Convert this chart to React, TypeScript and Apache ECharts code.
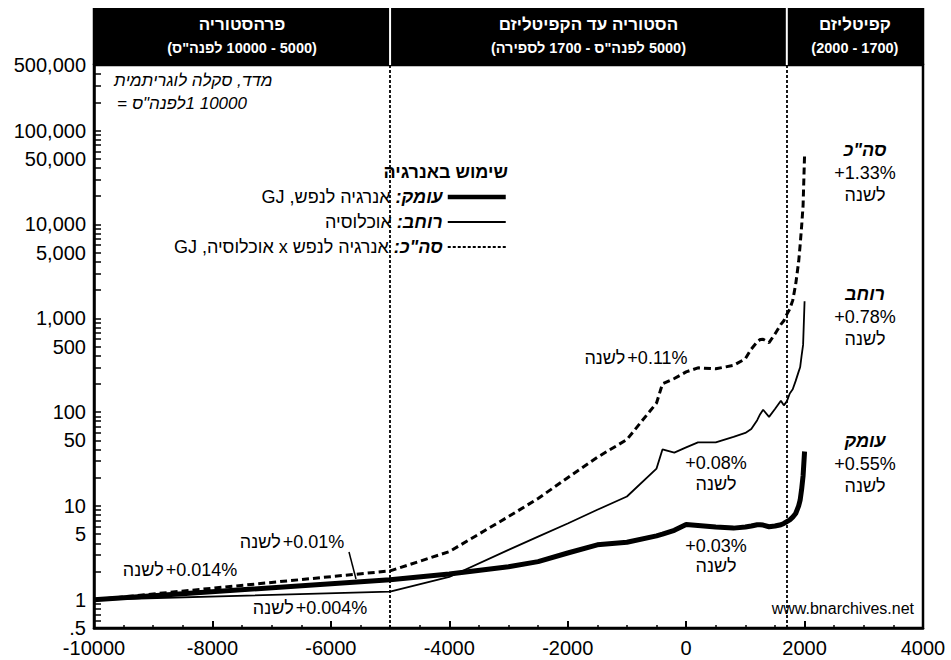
import React, { useEffect, useRef } from "react";
import * as echarts from "echarts";

// ---------- data ----------
const years = [
  -10000, -5000, -4000, -3000, -2500, -2000, -1500, -1000, -500, -400, -200, 0, 200, 500, 800, 1000,
  1100, 1200, 1250, 1300, 1400, 1500, 1600, 1650, 1700, 1750, 1800, 1850, 1900, 1925, 1950, 1975, 2000,
];
// depth: energy per capita (index)
const depth = [
  1.0, 1.63, 1.88, 2.25, 2.55, 3.15, 3.85, 4.1, 4.8, 5.0, 5.5, 6.35, 6.2, 5.95, 5.8, 5.95,
  6.1, 6.3, 6.3, 6.25, 6.0, 6.1, 6.3, 6.5, 6.8, 7.1, 7.6, 8.3, 10, 11.5, 15, 21, 38,
];
// breadth: population (index)
const breadth = [
  1.0, 1.22, 1.75, 3.4, 4.7, 6.5, 9.1, 12.6, 25, 40, 37, 42, 47.5, 47.5, 54.5, 60,
  66, 82, 95, 106, 89, 108, 132, 118, 130, 158, 175, 215, 270, 300, 400, 520, 1520,
];
// total: energy per capita x population (index)
const total = [
  1.0, 2.03, 3.26, 7.7, 12, 20, 33, 51, 125, 200, 228, 268, 296, 289, 315, 370,
  470, 560, 594, 598, 550, 680, 860, 940, 1100, 1250, 1550, 2300, 4000, 6000, 9500, 16000, 55000,
];

const yLabelValues = [0.5, 1, 5, 10, 50, 100, 500, 1000, 5000, 10000, 50000, 100000, 500000];
const eraBounds = [-10000, -5000, 1700, 4000];
const eraDividers = [-5000, 1700];
const eraTitles = ["פרהסטוריה", "הסטוריה עד הקפיטליזם", "קפיטליזם"];

type Seg = { t: string; pl?: number; pr?: number };
// each segment holds a single writing direction; segments are laid out left to right (right-to-left reading)
const eraRanges: Seg[][] = [
  [{ t: "(" }, { t: 'לפנה"ס', pr: 4 }, { t: "10000 - 5000)" }],
  [{ t: "(" }, { t: "לספירה", pr: 4 }, { t: "1700 -", pr: 4 }, { t: 'לפנה"ס', pr: 4 }, { t: "5000)" }],
  [{ t: "(2000 - 1700)" }],
];
const seriesNames = ['סה"כ', "רוחב", "עומק"];
const legendOrder = ["עומק", "רוחב", 'סה"כ'];
const legendRows: Record<string, string> = {
  "עומק": "{n|GJ ,}{nP|אנרגיה לנפש}{b|:}{b|עומק}",
  "רוחב": "{nP|אוכלוסיה}{b|:}{b|רוחב}",
  'סה"כ': '{n|GJ ,}{n|אוכלוסיה}{nX|x}{nP|אנרגיה לנפש}{b|:}{b|סה"כ}',
};
const rightRates = [
  ['סה"כ', "+1.33%", "לשנה"],
  ["רוחב", "+0.78%", "לשנה"],
  ["עומק", "+0.55%", "לשנה"],
];
const perYear = "לשנה";
const innerRates = ["+0.11%", "+0.01%", "+0.014%", "+0.004%"];
const midRates = ["+0.08%", "+0.03%"];

const FONT = '"Liberation Sans", Arial, Helvetica, sans-serif';
const lg = (v: number) => Math.log10(v);

function buildTickValues(): number[] {
  const out: number[] = [];
  for (let d = -1; d <= 5; d++) {
    for (let k = 1; k <= 9; k++) {
      const v = k * Math.pow(10, d);
      if (v >= 0.5 - 1e-9 && v <= 500000 + 1e-6) out.push(lg(v));
    }
  }
  return out;
}

function fmtY(val: number): string {
  const v = Math.pow(10, val);
  if (v < 0.95) {
    const r = Math.round(v * 10) / 10;
    return "." + String(r).split(".")[1];
  }
  return Math.round(v).toLocaleString("en-US");
}

function toSeries(values: number[]) {
  return years.map((y, i) => [y, lg(values[i])]);
}

function buildOption(): any {
  const lineBase = {
    type: "line",
    symbol: "none",
    silent: true,
    emphasis: { disabled: true },
    color: "#000",
    itemStyle: { color: "#000" },
  };
  const richBase = { fontSize: 18, color: "#000", fontFamily: FONT };
  return {
    animation: false,
    textStyle: { fontFamily: FONT },
    grid: { left: 94, right: 28, top: 65, bottom: 32, show: true, borderColor: "#000", borderWidth: 2.5, backgroundColor: "transparent" },
    xAxis: {
      type: "value",
      min: -10000,
      max: 4000,
      interval: 2000,
      axisLine: { show: true, onZero: false, lineStyle: { color: "#000", width: 2.5 } },
      axisTick: { show: true, inside: true, length: 7, lineStyle: { color: "#000", width: 2 } },
      minorTick: { show: true, splitNumber: 4, length: 3, lineStyle: { color: "#000", width: 1.5 } },
      splitLine: { show: false },
      axisLabel: { color: "#000", fontSize: 20, margin: 10, fontFamily: FONT, formatter: (v: number) => String(v) },
    },
    yAxis: {
      type: "value",
      min: lg(0.5),
      max: lg(500000),
      axisLine: { show: true, onZero: false, lineStyle: { color: "#000", width: 2.5 } },
      axisTick: { show: true, inside: true, length: 7, customValues: buildTickValues(), lineStyle: { color: "#000", width: 1.5 } },
      splitLine: { show: false },
      axisLabel: { color: "#000", fontSize: 20, margin: 8, fontFamily: FONT, customValues: yLabelValues.map(lg), formatter: fmtY },
    },
    legend: {
      orient: "vertical",
      align: "right",
      right: 443,
      top: 188,
      padding: 0,
      itemGap: 7,
      itemWidth: 58,
      itemHeight: 14,
      selectedMode: false,
      itemStyle: { opacity: 0 },
      lineStyle: { width: "inherit" },
      data: [
        { name: legendOrder[0], lineStyle: { width: 4.5 } },
        { name: legendOrder[1], lineStyle: { width: 2 } },
        { name: legendOrder[2], lineStyle: { width: 1.8, type: [3, 2] } },
      ],
      formatter: (name: string) => legendRows[name],
      textStyle: {
        color: "#000",
        fontSize: 18,
        fontFamily: FONT,
        rich: {
          n: { ...richBase },
          nP: { ...richBase, padding: [0, 5, 0, 0] },
          nX: { ...richBase, padding: [0, 5, 0, 5] },
          b: { ...richBase, fontWeight: "bold", fontStyle: "italic" },
        },
      },
    },
    series: [
      {
        ...lineBase,
        name: seriesNames[0],
        data: toSeries(total),
        lineStyle: { color: "#000", width: 3, type: [7, 4] },
        markLine: {
          silent: true,
          symbol: ["none", "none"],
          label: { show: false },
          emphasis: { disabled: true },
          lineStyle: { color: "#000", width: 1.8, type: [3, 2] },
          data: eraDividers.map((x) => ({ xAxis: x })),
        },
      },
      { ...lineBase, name: seriesNames[1], data: toSeries(breadth), lineStyle: { color: "#000", width: 1.8 } },
      { ...lineBase, name: seriesNames[2], data: toSeries(depth), lineStyle: { color: "#000", width: 5, cap: "butt" } },
    ],
  };
}

type TxtOpts = { align?: string; fill?: string; fontSize?: number; fontWeight?: string; fontStyle?: string };

function txt(text: string | Seg[], x: number, y: number, opts: TxtOpts = {}) {
  const align = opts.align || "center";
  const fill = opts.fill || "#000";
  const fontSize = opts.fontSize || 18;
  const fontWeight = opts.fontWeight || "normal";
  const fontStyle = opts.fontStyle || "normal";
  let content: string;
  let rich: any = undefined;
  if (typeof text === "string") {
    content = text;
  } else {
    rich = {};
    content = text
      .map((s, k) => {
        const nm = "k" + k;
        rich[nm] = { fill, fontSize, fontWeight, fontStyle, fontFamily: FONT, padding: [0, s.pr || 0, 0, s.pl || 0] };
        return `{${nm}|${s.t}}`;
      })
      .join("");
  }
  return {
    type: "text",
    x,
    y,
    silent: true,
    z: 10,
    style: {
      text: content,
      rich,
      fill,
      fontSize,
      fontWeight,
      fontStyle,
      fontFamily: FONT,
      align,
      verticalAlign: "middle",
      textAlign: align,
      textVerticalAlign: "middle",
    },
  };
}

function buildGraphics(px: (v: number) => number): any[] {
  const xs = eraBounds.map(px);
  const top = 8;
  const bottom = 65;
  const g: any[] = [];
  g.push({
    type: "rect",
    silent: true,
    z: 5,
    shape: { x: xs[0] - 1.25, y: top, width: xs[3] - xs[0] + 2.5, height: bottom - top },
    style: { fill: "#000" },
  });
  for (let i = 1; i <= 2; i++) {
    g.push({ type: "rect", silent: true, z: 6, shape: { x: xs[i] - 1, y: top, width: 2, height: bottom - top }, style: { fill: "#fff" } });
  }
  for (let i = 0; i < 3; i++) {
    const cx = (xs[i] + xs[i + 1]) / 2;
    g.push(txt(eraTitles[i], cx, 24, { fill: "#fff", fontSize: 17, fontWeight: "bold" }));
    g.push(txt(eraRanges[i], cx, 48, { fill: "#fff", fontSize: 14.5, fontWeight: "bold" }));
  }
  // note
  g.push(txt("מדד, סקלה לוגריתמית", 114, 80, { align: "left", fontSize: 17, fontStyle: "italic" }));
  g.push(txt([{ t: "=", pr: 5 }, { t: 'לפנה"ס' }, { t: "1 10000" }], 117, 103, { align: "left", fontSize: 17, fontStyle: "italic" }));
  // legend title
  g.push(txt("שימוש באנרגיה", 508, 172, { align: "right", fontSize: 18, fontWeight: "bold" }));
  // right-hand rates
  const rowY = [150, 294, 441];
  rightRates.forEach((r, i) => {
    g.push(txt(r[0], 865, rowY[i], { fontWeight: "bold", fontStyle: "italic" }));
    g.push(txt(r[1], 865, rowY[i] + 23, {}));
    g.push(txt(r[2], 865, rowY[i] + 45, {}));
  });
  // inner rates
  const innerPos = [
    [636, 358],
    [292, 542],
    [180, 570],
    [310, 608],
  ];
  innerRates.forEach((r, i) => {
    g.push(txt([{ t: perYear, pr: 2 }, { t: r }], innerPos[i][0], innerPos[i][1], {}));
  });
  g.push(txt(midRates[0], 716, 463, {}));
  g.push(txt(perYear, 716, 484, {}));
  g.push(txt(midRates[1], 716, 546, {}));
  g.push(txt(perYear, 716, 566, {}));
  g.push({
    type: "line",
    silent: true,
    z: 10,
    shape: { x1: 349, y1: 552, x2: 356, y2: 579 },
    style: { stroke: "#000", lineWidth: 1.5 },
  });
  g.push(txt("www.bnarchives.net", 914, 608, { align: "right", fontSize: 16 }));
  return g;
}

export default function App() {
  const ref = useRef<HTMLDivElement>(null);
  useEffect(() => {
    document.body.style.margin = "0";
    const chart = echarts.init(ref.current as HTMLDivElement, null, { renderer: "svg" });
    chart.setOption(buildOption());
    const px = (v: number) => chart.convertToPixel({ xAxisIndex: 0 }, v) as number;
    chart.setOption({ graphic: buildGraphics(px) });
    return () => chart.dispose();
  }, []);
  return <div ref={ref} style={{ width: 951, height: 660, background: "#fff" }} />;
}
